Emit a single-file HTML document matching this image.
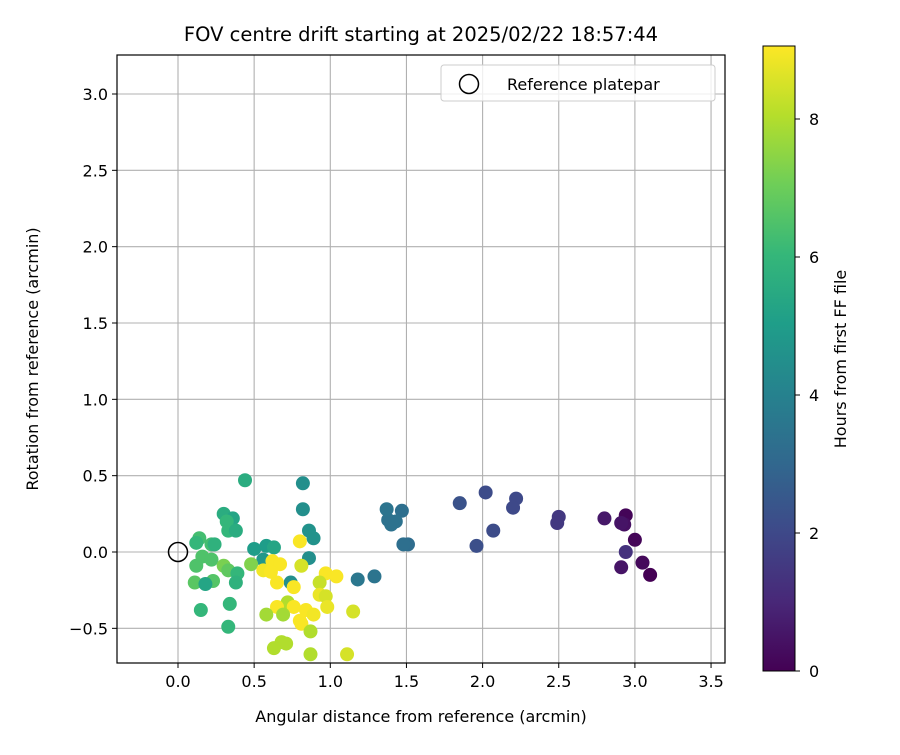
<!DOCTYPE html>
<html><head><meta charset="utf-8"><style>
body{margin:0;background:#fff;}
svg text{font-family:"DejaVu Sans","Liberation Sans",sans-serif;fill:#000;}
</style></head><body>
<svg id="chart" width="900" height="750" xmlns="http://www.w3.org/2000/svg">
<rect width="900" height="750" fill="#fff"/>
<text x="421" y="41" font-size="19.5" text-anchor="middle">FOV centre drift starting at 2025/02/22 18:57:44</text>
<g id="grid"></g>
<g id="points"></g>
<g id="axes"></g>
<text x="421" y="722" font-size="16" text-anchor="middle">Angular distance from reference (arcmin)</text>
<text transform="translate(38,359) rotate(-90)" font-size="16" text-anchor="middle">Rotation from reference (arcmin)</text>
<g>
<rect x="441" y="65" width="274" height="36" rx="3" fill="#fff" fill-opacity="0.8" stroke="#ccc"/>
<circle cx="469" cy="84" r="9.5" fill="none" stroke="#000" stroke-width="1.5"/>
<text x="507" y="90" font-size="16">Reference platepar</text>
</g>
<defs><linearGradient id="vir" x1="0" y1="1" x2="0" y2="0">
<stop offset="0" stop-color="#440154"/><stop offset="0.111" stop-color="#482878"/><stop offset="0.222" stop-color="#3e4989"/><stop offset="0.333" stop-color="#31688e"/><stop offset="0.444" stop-color="#26828e"/><stop offset="0.556" stop-color="#1f9e89"/><stop offset="0.667" stop-color="#35b779"/><stop offset="0.778" stop-color="#6ece58"/><stop offset="0.889" stop-color="#b5de2b"/><stop offset="1" stop-color="#fde725"/>
</linearGradient></defs>
<rect x="763" y="46" width="32" height="625" fill="url(#vir)" stroke="#000" stroke-width="1"/>
<g id="cbticks"></g>
<text transform="translate(846,359) rotate(-90)" font-size="16" text-anchor="middle">Hours from first FF file</text>
</svg>
<script>
const xs=[3.10,3.05,3.00,2.94,2.93,2.91,2.94,2.91,2.80,2.50,2.49,2.22,2.20,2.07,2.02,1.96,1.85,1.51,1.48,1.47,1.43,1.40,1.38,1.37,1.29,1.18,
0.44,0.82,0.82,0.86,0.89,0.30,0.36,0.32,0.33,0.38,0.14,0.12,0.22,0.24,0.50,0.58,0.63,0.56,0.86,0.16,0.12,0.22,0.30,0.33,0.39,0.48,0.11,0.23,0.18,0.38,0.15,0.34,0.33,0.74,
0.80,0.56,0.62,0.67,0.61,0.65,0.76,0.81,0.97,1.04,0.93,0.93,0.97,0.98,0.72,0.65,0.76,0.84,0.89,0.81,0.80,0.58,0.69,0.87,1.15,0.68,0.63,0.71,0.87,1.11];
const ys=[-0.15,-0.07,0.08,0.24,0.18,0.19,0.00,-0.10,0.22,0.23,0.19,0.35,0.29,0.14,0.39,0.04,0.32,0.05,0.05,0.27,0.20,0.18,0.21,0.28,-0.16,-0.18,
0.47,0.45,0.28,0.14,0.09,0.25,0.22,0.20,0.14,0.14,0.09,0.06,0.05,0.05,0.02,0.04,0.03,-0.05,-0.04,-0.03,-0.09,-0.05,-0.09,-0.12,-0.14,-0.08,-0.20,-0.19,-0.21,-0.20,-0.38,-0.34,-0.49,-0.20,
0.07,-0.12,-0.06,-0.08,-0.13,-0.20,-0.23,-0.09,-0.14,-0.16,-0.20,-0.28,-0.29,-0.36,-0.33,-0.36,-0.36,-0.38,-0.41,-0.47,-0.45,-0.41,-0.41,-0.52,-0.39,-0.59,-0.63,-0.60,-0.67,-0.67];
const hours=[0,0.2,0.1,0.1,0.4,0.5,1.3,0.5,0.6,1.5,1.5,2.0,2.0,2.1,2.1,2.2,2.3,3.2,3.3,3.3,3.4,3.4,3.4,3.5,3.5,3.6,
5.6,4.5,4.5,4.6,4.6,5.6,5.3,6.0,6.0,5.6,6.3,6.0,6.3,5.8,5.0,5.0,5.3,4.8,4.5,6.5,6.5,6.5,7.2,6.8,6.0,7.3,6.7,6.6,5.3,5.8,6.0,6.0,6.0,4.5,
9.0,8.9,9,9,9,9,9,8.5,9,9,8.3,8.8,8.5,8.8,8.0,9,9,9,8.9,9,9,7.8,7.8,8.0,8.5,8.0,8.0,8.0,8.0,8.5];
const xTicks=[0.0,0.5,1.0,1.5,2.0,2.5,3.0,3.5];
const yTicks=[-0.5,0.0,0.5,1.0,1.5,2.0,2.5,3.0];
const cTicks=[0,2,4,6,8];
const L=117,R=725,T=55,B=663;
const X=v=>178+v*152.3, Y=v=>552-v*152.67, C=h=>671-h*69;
const NS="http://www.w3.org/2000/svg";
function mk(tag,a,p){const e=document.createElementNS(NS,tag);for(const k in a)e.setAttribute(k,a[k]);p.appendChild(e);return e;}
const vir=[[68,1,84],[72,40,120],[62,73,137],[49,104,142],[38,130,142],[31,158,137],[53,183,121],[110,206,88],[181,222,43],[253,231,37]];
function cmap(h){let t=Math.max(0,Math.min(1,h/9.06))*9;let i=Math.min(8,Math.floor(t));let f=t-i;const a=vir[i],b=vir[i+1];return `rgb(${a.map((c,k)=>Math.round(c+(b[k]-c)*f)).join(',')})`;}
const g=document.getElementById('grid'),ax=document.getElementById('axes'),pts=document.getElementById('points'),cb=document.getElementById('cbticks');
xTicks.forEach(v=>{const x=X(v);
const l=mk('line',{x1:x,x2:x,y1:T,y2:B,stroke:'#b0b0b0','stroke-width':1.1},g);


mk('line',{x1:x,x2:x,y1:B,y2:B+5,stroke:'#000'},ax);
const t=mk('text',{x:x,y:B+24,'font-size':16,'text-anchor':'middle'},ax);t.textContent=v.toFixed(1);

});
yTicks.forEach(v=>{const y=Y(v);
const l=mk('line',{x1:L,x2:R,y1:y,y2:y,stroke:'#b0b0b0','stroke-width':1.1},g);


mk('line',{x1:L-5,x2:L,y1:y,y2:y,stroke:'#000'},ax);
const t=mk('text',{x:L-9,y:y+6,'font-size':16,'text-anchor':'end'},ax);t.textContent=(v<0?'\u2212':'')+Math.abs(v).toFixed(1);

});
const fr=mk('rect',{x:L,y:T,width:R-L,height:B-T,fill:'none',stroke:'#000','stroke-width':1.2},ax);


xs.forEach((v,i)=>{const c=mk('circle',{cx:X(v),cy:Y(ys[i]),r:7,fill:cmap(hours[i])},pts);

});
const ref=mk('circle',{cx:X(0),cy:Y(0),r:9.5,fill:'none',stroke:'#000','stroke-width':1.5},pts);


cTicks.forEach(v=>{const y=C(v);
mk('line',{x1:795,x2:800,y1:y,y2:y,stroke:'#000'},cb);
const t=mk('text',{x:809,y:y+6,'font-size':16},cb);t.textContent=v;

});
</script>
</body></html>
